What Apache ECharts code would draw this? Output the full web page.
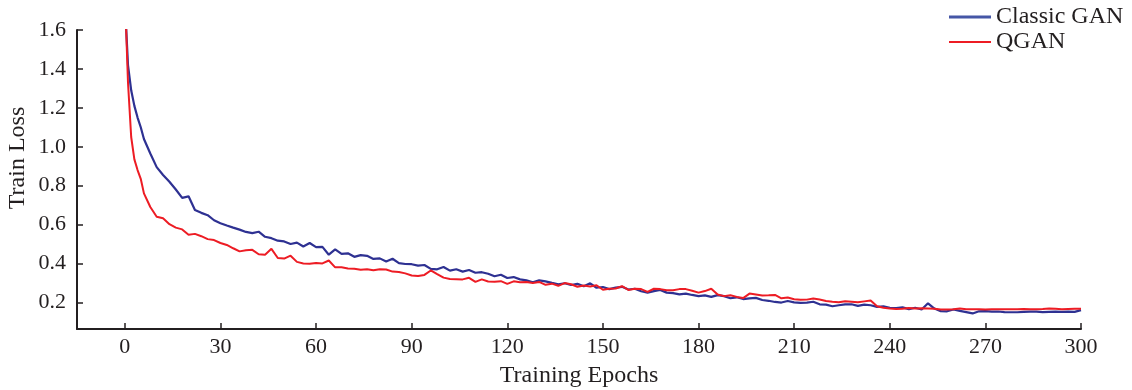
<!DOCTYPE html>
<html>
<head>
<meta charset="utf-8">
<title>Train Loss</title>
<script src="https://cdn.jsdelivr.net/npm/echarts@6.0.0/dist/echarts.min.js"></script>
<style>
    html, body { margin: 0; padding: 0; background: #fff; }
    #mainChart { width: 1132px; height: 390px; }
</style>
</head>
<body>
<div id="mainChart"></div>
<script>
// 横轴: 训练轮次
var epochs = [0, 1, 2, 3, 4, 5, 6,
    8, 10, 12, 14, 16, 18, 20, 22, 24, 26, 28,
    30, 32, 34, 36, 38, 40, 42, 44, 46, 48,
    50, 52, 54, 56, 58, 60, 62, 64, 66, 68,
    70, 72, 74, 76, 78, 80, 82, 84, 86, 88,
    90, 92, 94, 96, 98, 100, 102, 104, 106, 108,
    110, 112, 114, 116, 118, 120, 122, 124, 126, 128,
    130, 132, 134, 136, 138, 140, 142, 144, 146, 148,
    150, 152, 154, 156, 158, 160, 162, 164, 166, 168,
    170, 172, 174, 176, 178, 180, 182, 184, 186, 188,
    190, 192, 194, 196, 198, 200, 202, 204, 206, 208,
    210, 212, 214, 216, 218, 220, 222, 224, 226, 228,
    230, 232, 234, 236, 238, 240, 242, 244, 246, 248,
    250, 252, 254, 256, 258, 260, 262, 264, 266, 268,
    270, 272, 274, 276, 278, 280, 282, 284, 286, 288,
    290, 292, 294, 296, 298, 300];

var classicGan = [1.75, 1.42, 1.29, 1.21, 1.15, 1.10, 1.04,
    0.965, 0.895, 0.855, 0.82, 0.78, 0.737, 0.745, 0.675, 0.66, 0.648, 0.622,
    0.607, 0.595, 0.584, 0.574, 0.562, 0.556, 0.563, 0.537, 0.53, 0.517,
    0.513, 0.50, 0.507, 0.487, 0.505, 0.484, 0.485, 0.445, 0.472, 0.449,
    0.452, 0.434, 0.443, 0.439, 0.423, 0.426, 0.41, 0.424, 0.402, 0.397,
    0.396, 0.389, 0.392, 0.372, 0.37, 0.382, 0.363, 0.37, 0.358, 0.366,
    0.352, 0.355, 0.347, 0.334, 0.342, 0.325, 0.33, 0.318, 0.313, 0.303,
    0.313, 0.308, 0.30, 0.293, 0.298, 0.289, 0.295, 0.283, 0.298, 0.275,
    0.279, 0.268, 0.276, 0.28, 0.266, 0.27, 0.257, 0.25, 0.258, 0.264,
    0.25, 0.247, 0.241, 0.245, 0.238, 0.232, 0.236, 0.228, 0.237, 0.232,
    0.221, 0.226, 0.217, 0.22, 0.223, 0.212, 0.208, 0.202, 0.199, 0.207,
    0.2, 0.197, 0.199, 0.203, 0.19, 0.188, 0.18, 0.185, 0.19, 0.19,
    0.182, 0.188, 0.185, 0.177, 0.18, 0.172, 0.171, 0.174, 0.165, 0.172,
    0.163, 0.195, 0.168, 0.155, 0.154, 0.163, 0.156, 0.15, 0.143, 0.154,
    0.155, 0.152, 0.153, 0.15, 0.149, 0.149, 0.151, 0.152, 0.152, 0.15,
    0.151, 0.152, 0.151, 0.152, 0.151, 0.16];

var qgan = [1.8, 1.33, 1.05, 0.935, 0.88, 0.835, 0.76,
    0.69, 0.64, 0.632, 0.602, 0.584, 0.575, 0.548, 0.552, 0.54, 0.525, 0.52,
    0.505, 0.495, 0.478, 0.462, 0.468, 0.47, 0.447, 0.445, 0.475, 0.428,
    0.425, 0.44, 0.408, 0.40, 0.398, 0.402, 0.40, 0.415, 0.38, 0.38,
    0.374, 0.373, 0.368, 0.37, 0.365, 0.37, 0.369, 0.358, 0.356, 0.349,
    0.338, 0.335, 0.341, 0.364, 0.345, 0.327, 0.32, 0.319, 0.318, 0.326,
    0.305, 0.318, 0.307, 0.306, 0.309, 0.295, 0.308, 0.303, 0.305, 0.299,
    0.305, 0.29, 0.296, 0.285, 0.299, 0.293, 0.28, 0.287, 0.281, 0.288,
    0.265, 0.27, 0.271, 0.283, 0.264, 0.27, 0.268, 0.254, 0.27, 0.268,
    0.262, 0.262, 0.268, 0.268, 0.26, 0.25, 0.258, 0.27, 0.24, 0.232,
    0.236, 0.228, 0.222, 0.245, 0.24, 0.235, 0.236, 0.238, 0.221, 0.225,
    0.216, 0.213, 0.214, 0.22, 0.215, 0.207, 0.203, 0.2, 0.206, 0.203,
    0.2, 0.205, 0.21, 0.18, 0.172, 0.168, 0.166, 0.167, 0.171, 0.169,
    0.17, 0.169, 0.167, 0.163, 0.163, 0.164, 0.168, 0.164, 0.164, 0.164,
    0.163, 0.164, 0.165, 0.164, 0.165, 0.164, 0.166, 0.164, 0.165, 0.166,
    0.168, 0.167, 0.165, 0.166, 0.167, 0.167];

// 刻度
var xTicks = [0, 30, 60, 90, 120, 150, 180, 210, 240, 270, 300];
var yTicks = [0.2, 0.4, 0.6, 0.8, 1.0, 1.2, 1.4, 1.6];

var seriesNames = ['Classic GAN', 'QGAN'];

var fontFamily = '"Liberation Serif", "Times New Roman", serif';
var inkColor = '#231f20';
var blue = '#2e3192';
var red = '#ed1c24';

function toPairs(xs, ys) {
    var out = [];
    for (var i = 0; i < xs.length; i++) {
        out.push([xs[i], ys[i]]);
    }
    return out;
}

var option = {
    animation: false,
    backgroundColor: '#fff',
    grid: {
        left: 77,
        right: 51,
        top: 30,
        bottom: 61,
        outerBoundsMode: 'none'
    },
    legend: {
        data: [
            { name: seriesNames[0], icon: 'rect', itemStyle: { color: '#4556a6' } },
            { name: seriesNames[1], icon: 'path://M0,0H42V2H0Z', itemStyle: { color: red } }
        ],
        orient: 'vertical',
        left: 949,
        top: 5,
        padding: 0,
        itemGap: 1,
        itemWidth: 42,
        itemHeight: 3,
        textStyle: {
            fontFamily: fontFamily,
            fontSize: 24,
            lineHeight: 24,
            color: inkColor
        }
    },
    xAxis: {
        type: 'value',
        min: -15,
        max: 300,
        name: 'Training Epochs',
        nameLocation: 'middle',
        nameGap: 35,
        nameTextStyle: {
            fontFamily: fontFamily,
            fontSize: 24,
            color: inkColor
        },
        splitLine: { show: false },
        axisLine: { onZero: false, lineStyle: { color: inkColor, width: 2 } },
        axisTick: {
            inside: true,
            length: 6,
            customValues: xTicks,
            lineStyle: { color: inkColor, width: 1.5 }
        },
        axisLabel: {
            customValues: xTicks,
            margin: 7,
            fontFamily: fontFamily,
            fontSize: 22,
            color: inkColor
        }
    },
    yAxis: {
        type: 'value',
        min: 0.063,
        max: 1.6,
        splitLine: { show: false },
        axisLine: { show: true, onZero: false, lineStyle: { color: inkColor, width: 2 } },
        axisTick: {
            show: true,
            inside: true,
            length: 6,
            customValues: yTicks,
            lineStyle: { color: inkColor, width: 1.5 }
        },
        axisLabel: {
            customValues: yTicks,
            margin: 11,
            fontFamily: fontFamily,
            fontSize: 22,
            color: inkColor,
            formatter: function (v) { return v.toFixed(1); }
        }
    },
    graphic: [
        {
            type: 'text',
            x: 18,
            y: 158,
            rotation: Math.PI / 2,
            style: {
                text: 'Train Loss',
                fontFamily: fontFamily,
                fontSize: 24,
                fill: inkColor,
                align: 'center',
                verticalAlign: 'middle'
            }
        }
    ],
    series: [
        {
            name: seriesNames[0],
            type: 'line',
            data: toPairs(epochs, classicGan),
            symbol: 'none',
            clip: true,
            color: blue,
            lineStyle: { color: blue, width: 2.2 }
        },
        {
            name: seriesNames[1],
            type: 'line',
            data: toPairs(epochs, qgan),
            symbol: 'none',
            clip: true,
            color: red,
            lineStyle: { color: red, width: 2 }
        }
    ]
};

var summaryChart = echarts.init(document.getElementById('mainChart'));
summaryChart.setOption(option);
window.onresize = function () {
    summaryChart.resize();
};
</script>
</body>
</html>
